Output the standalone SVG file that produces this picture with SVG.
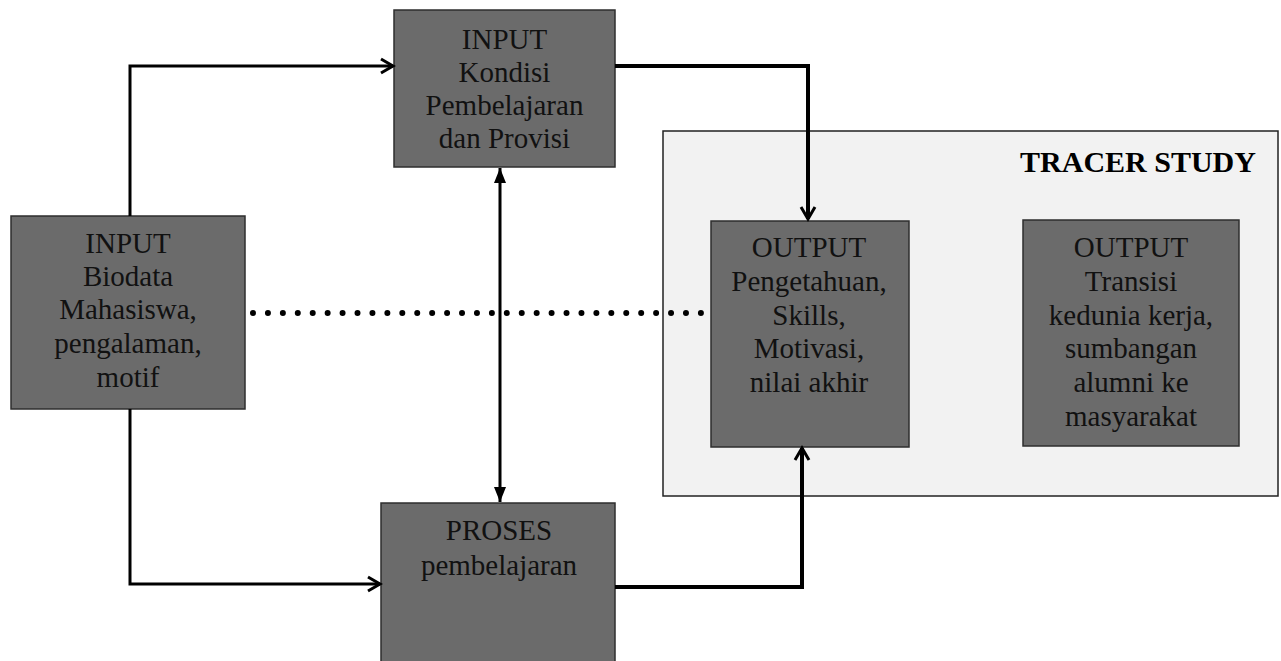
<svg xmlns="http://www.w3.org/2000/svg" width="1281" height="661" viewBox="0 0 1281 661">
<style>
.box{fill:#6b6b6b;stroke:#2e2e2e;stroke-width:1.5}
.container{fill:#f2f2f2;stroke:#222;stroke-width:1.5}
.t{font-family:"Liberation Serif","Times New Roman",serif;font-size:29px;fill:#111;text-anchor:middle}
.title{font-family:"Liberation Serif","Times New Roman",serif;font-size:30px;font-weight:bold;fill:#000;text-anchor:middle}
.conn{fill:none;stroke:#000;stroke-width:3}
.thick{stroke-width:4}
.dots{fill:none;stroke:#000;stroke-width:6;stroke-linecap:round;stroke-dasharray:0 14.93}
</style>
<defs>
<marker id="chev" markerUnits="userSpaceOnUse" markerWidth="18" markerHeight="20" refX="15" refY="9" orient="auto" viewBox="0 0 18 20">
<path d="M3,2 L15,9 L3,16" fill="none" stroke="#000" stroke-width="3"/>
</marker>
<marker id="tri" markerUnits="userSpaceOnUse" markerWidth="16" markerHeight="14" refX="15" refY="7" orient="auto-start-reverse" viewBox="0 0 16 14">
<path d="M0,1 L15,7 L0,13 z" fill="#000"/>
</marker>
</defs>
<rect width="1281" height="661" fill="#fff"/>

<g id="tracer-study">
<rect class="container" x="663" y="131" width="615" height="365"/>
<text class="title" x="1138" y="172">TRACER STUDY</text>
</g>

<g id="input-kondisi">
<rect class="box" x="394" y="10" width="221" height="157"/>
<text class="t" x="504.5" y="49">INPUT</text>
<text class="t" x="504.5" y="82">Kondisi</text>
<text class="t" x="504.5" y="115">Pembelajaran</text>
<text class="t" x="504.5" y="148">dan Provisi</text>
</g>

<g id="input-biodata">
<rect class="box" x="11" y="216" width="234" height="193"/>
<text class="t" x="128" y="253">INPUT</text>
<text class="t" x="128" y="286">Biodata</text>
<text class="t" x="128" y="319">Mahasiswa,</text>
<text class="t" x="128" y="353">pengalaman,</text>
<text class="t" x="128" y="387">motif</text>
</g>

<g id="output-1">
<rect class="box" x="711" y="221" width="198" height="226"/>
<text class="t" x="809" y="257">OUTPUT</text>
<text class="t" x="809" y="291">Pengetahuan,</text>
<text class="t" x="809" y="325">Skills,</text>
<text class="t" x="809" y="358">Motivasi,</text>
<text class="t" x="809" y="392">nilai akhir</text>
</g>

<g id="output-2">
<rect class="box" x="1023" y="220" width="216" height="226"/>
<text class="t" x="1131" y="257">OUTPUT</text>
<text class="t" x="1131" y="291">Transisi</text>
<text class="t" x="1131" y="325">kedunia kerja,</text>
<text class="t" x="1131" y="358">sumbangan</text>
<text class="t" x="1131" y="392">alumni ke</text>
<text class="t" x="1131" y="426">masyarakat</text>
</g>

<g id="proses">
<rect class="box" x="381" y="503" width="234" height="160"/>
<text class="t" x="499" y="540">PROSES</text>
<text class="t" x="499" y="575">pembelajaran</text>
</g>

<g id="connectors">
<path class="conn" d="M130,216 V66 H393" marker-end="url(#chev)"/>
<path class="conn" d="M130,409 V584 H380" marker-end="url(#chev)"/>
<path class="conn thick" d="M615,66 H808 V219" marker-end="url(#chev)"/>
<path class="conn thick" d="M615,587 H802 V448" marker-end="url(#chev)"/>
<line class="conn" x1="500" y1="168" x2="500" y2="502" marker-start="url(#tri)" marker-end="url(#tri)"/>
<line class="dots" x1="253" y1="313" x2="701" y2="313"/>
</g>
</svg>
